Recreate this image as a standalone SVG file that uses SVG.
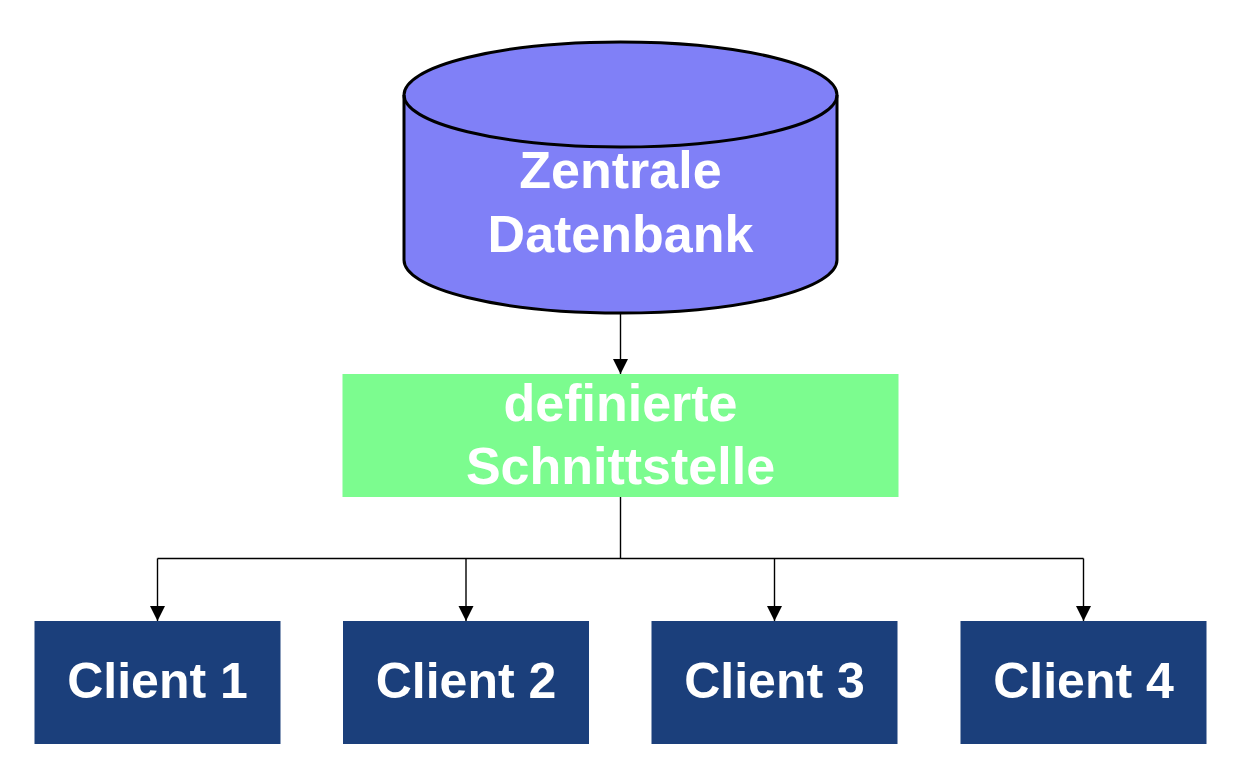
<svg xmlns="http://www.w3.org/2000/svg" width="1244" height="770" viewBox="0 0 1244 770">
<style>
.t{font-family:"Liberation Sans",Arial,sans-serif;font-weight:bold;fill:#ffffff;text-anchor:middle}
.c{fill:#1b3f7b}
.ln{stroke:#000;stroke-width:1.4;fill:none}
</style>
<defs>
<marker id="ah" markerWidth="16" markerHeight="16" refX="15" refY="7.5" orient="auto" markerUnits="userSpaceOnUse">
<path d="M0,0 L15,7.5 L0,15 Z" fill="#000"/>
</marker>
</defs>
<rect width="1244" height="770" fill="#fff"/>
<g id="connectors">
<line class="ln" x1="620.5" y1="314" x2="620.5" y2="374" marker-end="url(#ah)"/>
<polyline class="ln" points="620.5,497 620.5,558.5"/>
<line class="ln" x1="157.5" y1="558.5" x2="1083.5" y2="558.5"/>
<line class="ln" x1="157.5" y1="558.5" x2="157.5" y2="621" marker-end="url(#ah)"/>
<line class="ln" x1="466" y1="558.5" x2="466" y2="621" marker-end="url(#ah)"/>
<line class="ln" x1="774.5" y1="558.5" x2="774.5" y2="621" marker-end="url(#ah)"/>
<line class="ln" x1="1083.5" y1="558.5" x2="1083.5" y2="621" marker-end="url(#ah)"/>
</g>
<g id="db">
<path d="M404,95 L404,260 A216.5,53 0 0 0 837,260 L837,95 A216.5,53 0 0 0 404,95 Z" fill="#8080f7" stroke="#000" stroke-width="3"/>
<path d="M404,95 A216.5,52 0 0 0 837,95" fill="none" stroke="#000" stroke-width="3"/>
<text class="t" x="620.5" y="188" font-size="52">Zentrale</text>
<text class="t" x="620.5" y="252" font-size="52">Datenbank</text>
</g>
<g id="interface">
<rect x="342.5" y="374" width="556" height="123" fill="#7cfc8f"/>
<text class="t" x="620.5" y="421" font-size="52">definierte</text>
<text class="t" x="620.5" y="484" font-size="52">Schnittstelle</text>
</g>
<g id="client1">
<rect class="c" x="34.5" y="621" width="246" height="123"/>
<text class="t" x="157.5" y="698" font-size="50">Client 1</text>
</g>
<g id="client2">
<rect class="c" x="343" y="621" width="246" height="123"/>
<text class="t" x="466" y="698" font-size="50">Client 2</text>
</g>
<g id="client3">
<rect class="c" x="651.5" y="621" width="246" height="123"/>
<text class="t" x="774.5" y="698" font-size="50">Client 3</text>
</g>
<g id="client4">
<rect class="c" x="960.5" y="621" width="246" height="123"/>
<text class="t" x="1083.5" y="698" font-size="50">Client 4</text>
</g>
</svg>
